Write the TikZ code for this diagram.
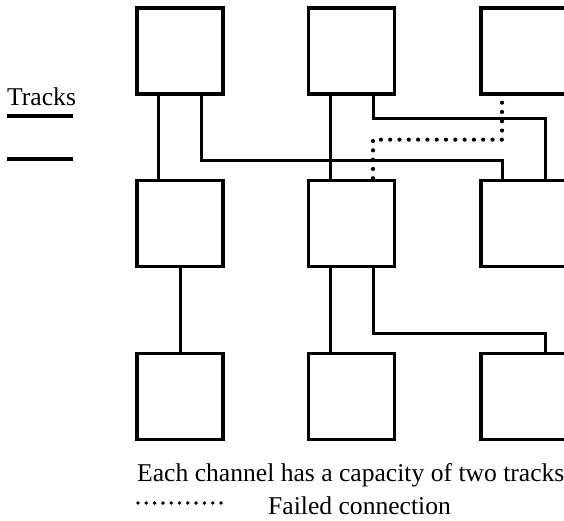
\documentclass[tikz,border=0pt]{standalone}
\usepackage{fontspec}
\setmainfont{Liberation Serif}
\begin{document}
\begin{tikzpicture}[x=1pt,y=-1pt,
  cell/.style={draw,line width=3.3pt,minimum width=86pt,minimum height=86pt,inner sep=0pt},
  wire/.style={line width=3pt,line join=miter},
  failed/.style={line width=4.2pt,line cap=round,dash pattern=on 0pt off 9.3pt},
  label/.style={inner sep=0pt,font=\fontsize{25.6}{31}\selectfont}]
\clip (0,0) rectangle (564,521);
\useasboundingbox (0,0) rectangle (564,521);

% logic cells, three rows by three columns
\node[cell] (tl) at (180,51) {};
\node[cell] (tm) at (351.5,51) {};
\node[cell] (tr) at (524,51) {};
\node[cell] (ml) at (180,223.5) {};
\node[cell] (mm) at (351.5,223.5) {};
\node[cell] (mr) at (524,223.5) {};
\node[cell] (bl) at (180,396.5) {};
\node[cell] (bm) at (351.5,396.5) {};
\node[cell] (br) at (524,396.5) {};

% routed connections
\draw[wire] ([xshift=-22pt]tl.south) -- ([xshift=-22pt]ml.north);
\draw[wire] ([xshift=21pt]tl.south) -- ++(0,65) -| ([xshift=-22pt]mr.north);
\draw[wire] ([xshift=-21.5pt]tm.south) -- ([xshift=-21.5pt]mm.north);
\draw[wire] ([xshift=21.5pt]tm.south) -- ++(0,23) -| ([xshift=21pt]mr.north);
\draw[wire] (ml.south) -- (bl.north);
\draw[wire] ([xshift=-21.5pt]mm.south) -- ([xshift=-21.5pt]bm.north);
\draw[wire] ([xshift=21.5pt]mm.south) -- ++(0,65) -| ([xshift=21pt]br.north);

% connection that could not be routed
\draw[failed] ([xshift=-22pt,yshift=-7pt]tr.south) -- ++(0,37) -| ([xshift=21.5pt]mm.north);

% legend
\node[label,anchor=base west] (tracks) at (7,106) {Tracks};
\coordinate (t1a) at (7,116);
\coordinate (t1b) at (73,116);
\coordinate (t2a) at (7,159);
\coordinate (t2b) at (73,159);
\draw[line width=3.3pt] (t1a) -- (t1b);
\draw[line width=3.3pt] (t2a) -- (t2b);

\node[label,anchor=base west] (capacity) at (137,481) {Each channel has a capacity of two tracks};
\coordinate (fa) at (138,503);
\coordinate (fb) at (221,503);
\draw[line width=3.8pt,line cap=round,dash pattern=on 0pt off 8.3pt] (fa) -- (fb);
\node[label,anchor=base west] (failtext) at (268,514) {Failed connection};
\end{tikzpicture}
\end{document}
